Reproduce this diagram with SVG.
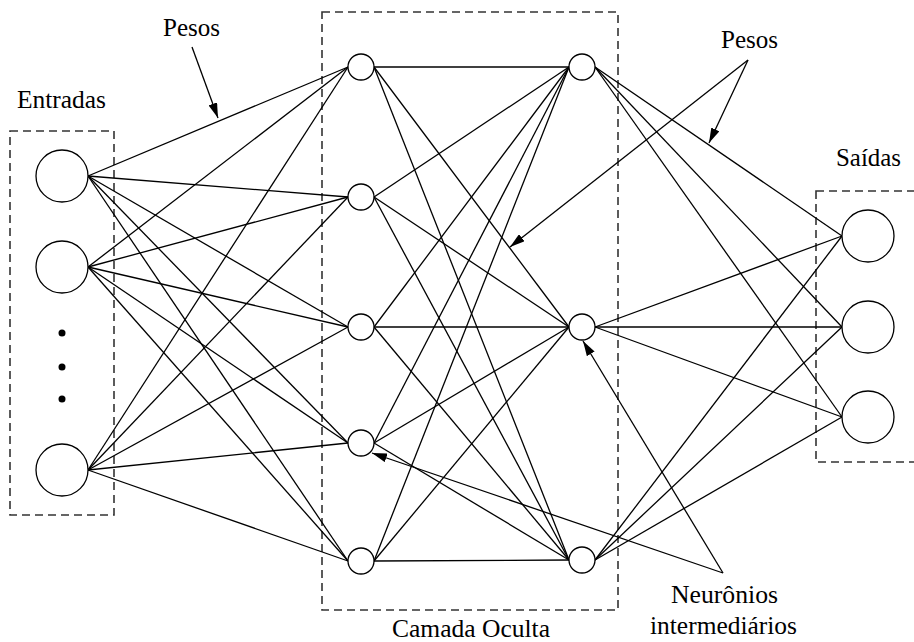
<svg xmlns="http://www.w3.org/2000/svg" width="914" height="642" viewBox="0 0 914 642">
<style>
.t{font-family:"Liberation Serif","Times New Roman",Tinos,"DejaVu Serif",serif;font-size:25px;fill:#000}
.box{fill:none;stroke:#333;stroke-width:1.6;stroke-dasharray:8,5}
.c line{stroke:#000;stroke-width:1.3}
.n{fill:#fff;stroke:#000;stroke-width:1.3}
.a{stroke:#000;stroke-width:1.3;fill:none;marker-end:url(#ah)}
</style>
<defs>
<marker id="ah" viewBox="0 0 15 9" refX="15" refY="4.5" markerWidth="15" markerHeight="9" markerUnits="userSpaceOnUse" orient="auto">
<path d="M0,0 L15,4.5 L0,9 z" fill="#000"/>
</marker>
</defs>
<rect width="914" height="642" fill="#fff"/>
<g id="boxes">
<rect class="box" x="10" y="131" width="104" height="384"/>
<rect class="box" x="322" y="12" width="296" height="598"/>
<rect class="box" x="816" y="191" width="110" height="271"/>
</g>
<g id="connectors" class="c">
<line x1="88" y1="176" x2="348" y2="67"/>
<line x1="88" y1="176" x2="348" y2="197"/>
<line x1="88" y1="176" x2="348" y2="327"/>
<line x1="88" y1="176" x2="348" y2="443"/>
<line x1="88" y1="176" x2="348" y2="561"/>
<line x1="88" y1="267" x2="348" y2="67"/>
<line x1="88" y1="267" x2="348" y2="197"/>
<line x1="88" y1="267" x2="348" y2="327"/>
<line x1="88" y1="267" x2="348" y2="443"/>
<line x1="88" y1="267" x2="348" y2="561"/>
<line x1="88" y1="470" x2="348" y2="67"/>
<line x1="88" y1="470" x2="348" y2="197"/>
<line x1="88" y1="470" x2="348" y2="327"/>
<line x1="88" y1="470" x2="348" y2="443"/>
<line x1="88" y1="470" x2="348" y2="561"/>
<line x1="374" y1="67" x2="569" y2="67"/>
<line x1="374" y1="67" x2="569" y2="327"/>
<line x1="374" y1="67" x2="569" y2="560"/>
<line x1="374" y1="197" x2="569" y2="67"/>
<line x1="374" y1="197" x2="569" y2="327"/>
<line x1="374" y1="197" x2="569" y2="560"/>
<line x1="374" y1="327" x2="569" y2="67"/>
<line x1="374" y1="327" x2="569" y2="327"/>
<line x1="374" y1="327" x2="569" y2="560"/>
<line x1="374" y1="443" x2="569" y2="67"/>
<line x1="374" y1="443" x2="569" y2="327"/>
<line x1="374" y1="443" x2="569" y2="560"/>
<line x1="374" y1="561" x2="569" y2="67"/>
<line x1="374" y1="561" x2="569" y2="327"/>
<line x1="374" y1="561" x2="569" y2="560"/>
<line x1="595" y1="67" x2="842" y2="236"/>
<line x1="595" y1="67" x2="842" y2="327"/>
<line x1="595" y1="67" x2="842" y2="417"/>
<line x1="595" y1="327" x2="842" y2="236"/>
<line x1="595" y1="327" x2="842" y2="327"/>
<line x1="595" y1="327" x2="842" y2="417"/>
<line x1="595" y1="560" x2="842" y2="236"/>
<line x1="595" y1="560" x2="842" y2="327"/>
<line x1="595" y1="560" x2="842" y2="417"/>
</g>
<g id="input-nodes">
<circle id="in1" class="n" cx="62" cy="176" r="26"/>
<circle id="in2" class="n" cx="62" cy="267" r="26"/>
<circle id="in3" class="n" cx="62" cy="470" r="26"/>
<g id="dots" fill="#000">
<circle cx="62" cy="333" r="3.5"/>
<circle cx="62" cy="367" r="3.5"/>
<circle cx="62" cy="399" r="3.5"/>
</g>
</g>
<g id="hidden1">
<circle id="h11" class="n" cx="361" cy="67" r="13"/>
<circle id="h12" class="n" cx="361" cy="197" r="13"/>
<circle id="h13" class="n" cx="361" cy="327" r="13"/>
<circle id="h14" class="n" cx="361" cy="443" r="13"/>
<circle id="h15" class="n" cx="361" cy="561" r="13"/>
</g>
<g id="hidden2">
<circle id="h21" class="n" cx="582" cy="67" r="13"/>
<circle id="h22" class="n" cx="582" cy="327" r="13"/>
<circle id="h23" class="n" cx="582" cy="560" r="13"/>
</g>
<g id="outputs">
<circle id="o1" class="n" cx="868" cy="236" r="26"/>
<circle id="o2" class="n" cx="868" cy="327" r="26"/>
<circle id="o3" class="n" cx="868" cy="417" r="26"/>
</g>
<g id="annotations">
<line class="a" x1="192" y1="47" x2="218" y2="118"/>
<line class="a" x1="748" y1="60" x2="709" y2="143"/>
<line class="a" x1="748" y1="60" x2="510" y2="247"/>
<line class="a" x1="723" y1="573" x2="583" y2="341"/>
<line class="a" x1="723" y1="573" x2="372" y2="453"/>
</g>
<g id="labels">
<text class="t" x="163" y="36" textLength="57" lengthAdjust="spacingAndGlyphs">Pesos</text>
<text class="t" x="17" y="108" textLength="89" lengthAdjust="spacingAndGlyphs">Entradas</text>
<text class="t" x="721" y="48" textLength="57" lengthAdjust="spacingAndGlyphs">Pesos</text>
<text class="t" x="836" y="166" textLength="65" lengthAdjust="spacingAndGlyphs">Saídas</text>
<text class="t" x="671" y="603" textLength="107" lengthAdjust="spacingAndGlyphs">Neurônios</text>
<text class="t" x="650" y="634" textLength="147" lengthAdjust="spacingAndGlyphs">intermediários</text>
<text class="t" x="392" y="637" textLength="158" lengthAdjust="spacingAndGlyphs">Camada Oculta</text>
</g>
</svg>
